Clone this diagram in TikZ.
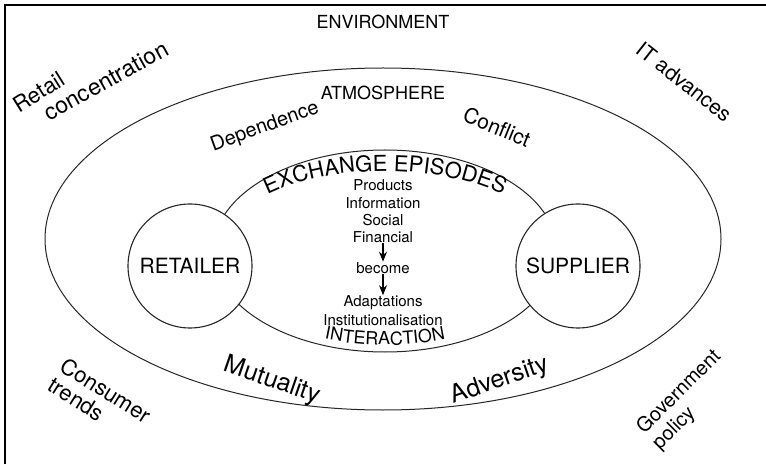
\documentclass[tikz,border=0pt]{standalone}
\usepackage{fontspec}
\setmainfont{TeX Gyre Heros}
\usetikzlibrary{decorations.text,arrows.meta}
\begin{document}
\begin{tikzpicture}[x=1pt,y=1pt,
  big/.style={font=\fontsize{18}{20}\selectfont, inner sep=1pt},
  word/.style={font=\fontsize{21}{22}\selectfont, inner sep=1pt},
  small/.style={font=\fontsize{15}{16}\selectfont, inner sep=0.5pt},
  line/.style={line width=1pt, draw=black!85},
  party/.style={circle, draw=black!85, line width=1.1pt, fill=white,
    minimum size=124pt, inner sep=0pt, font=\fontsize{21}{22}\selectfont},
  flow/.style={line width=1.1pt, -{Stealth[length=10pt,width=8pt]}}]
\useasboundingbox (0,0) rectangle (766,464);
% frame (top and left sides only)
\draw[line width=1.4pt] (5,0) -- (5,459) -- (766,459);
% ellipses
\draw[line] (383,225) ellipse [x radius=338, y radius=171];
\draw[line] (385,213) ellipse [x radius=172, y radius=101];
% circles
\node[party] (ret) at (190,198) {RETAILER};
\node[party] (sup) at (578,198) {SUPPLIER};
% headings
\node[big] (env) at (383,442) {ENVIRONMENT};
\node[big] (atm) at (383,371) {ATMOSPHERE};
% arc texts
\path[decorate, decoration={text along path, text align=center,
  text={|\fontsize{22}{24}\selectfont|EXCHANGE EPISODES}}]
  (385,213) ++(170:165 and 80) arc[start angle=170, end angle=10, x radius=165, y radius=80];
\path[decorate, decoration={text along path, text align=center,
  text={|\fontsize{18}{20}\selectfont|INTERACTION}}]
  (385,213) ++(210:170 and 94) arc[start angle=210, end angle=330, x radius=170, y radius=94];
% centre column
\node[small] (p1) at (383,279) {Products};
\node[small] (p2) at (383,261) {Information};
\node[small] (p3) at (383,244) {Social};
\node[small] (p4) at (383,227) {Financial};
\node[small] (bec) at (383,196) {become};
\node[small] (a1) at (383,161) {Adaptations};
\node[small] (a2) at (383,144) {Institutionalisation};
\draw[flow] (p4.south) -- (bec.north);
\draw[flow] (bec.south) -- (a1.north);
% atmosphere words
\node[word, font=\fontsize{20}{22}\selectfont, rotate=20] (dep) at (265,337) {Dependence};
\node[word, rotate=-22] (con) at (497,337) {Conflict};
\node[word, font=\fontsize{25}{26}\selectfont, rotate=-19] (mut) at (272,83) {Mutuality};
\node[word, font=\fontsize{25}{26}\selectfont, rotate=19] (adv) at (500,83) {Adversity};
% environment words
\node[word, font=\fontsize{22}{24}\selectfont, rotate=32] (rc1) at (39,372) {Retail};
\node[word, font=\fontsize{23}{24}\selectfont, rotate=29] (rc2) at (106,383) {concentration};
\node[word, rotate=-38] (it) at (684,382) {IT advances};
\node[word, font=\fontsize{22}{23}\selectfont, rotate=-32, align=left] (ct) at (100,64) {Consumer\\trends};
\node[word, font=\fontsize{20}{22}\selectfont, rotate=45, align=left] (gp) at (687,64) {Government\\policy};
\end{tikzpicture}
\end{document}
